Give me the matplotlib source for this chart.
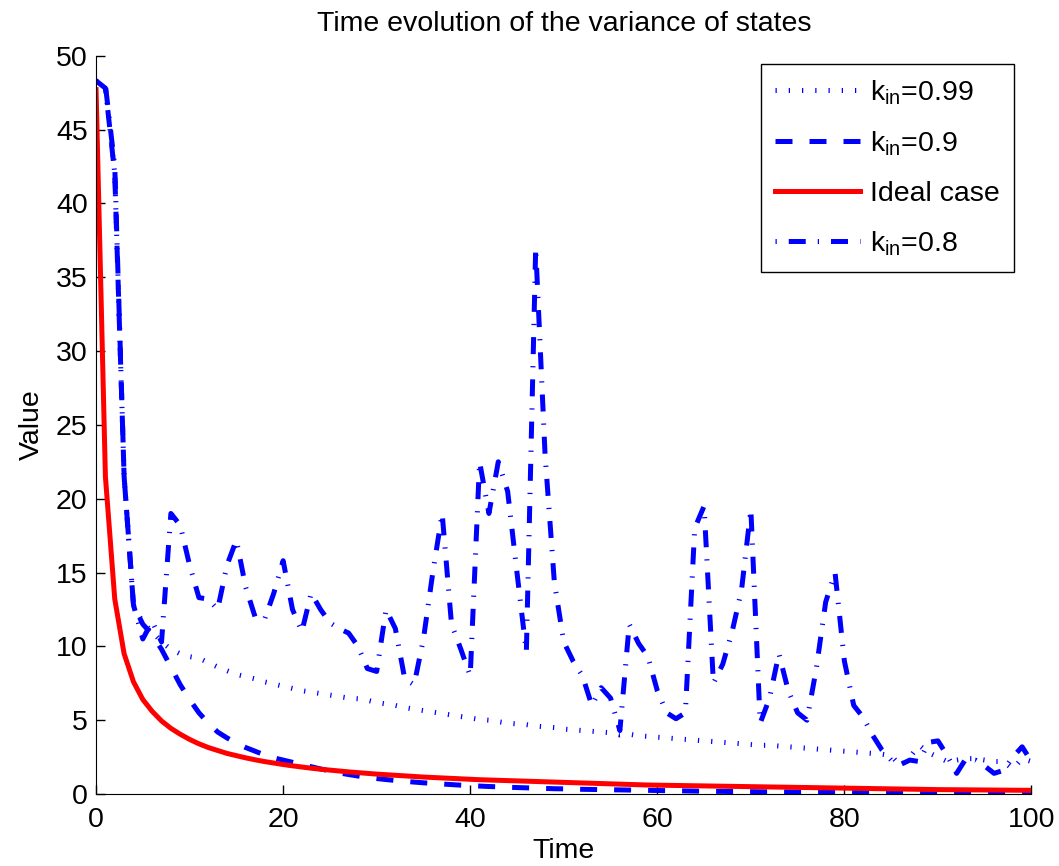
import matplotlib
matplotlib.use("Agg")
import matplotlib.pyplot as plt
import numpy as np

plt.rcParams['font.family'] = ['Liberation Sans', 'DejaVu Sans']
plt.rcParams['mathtext.fontset'] = 'custom'
plt.rcParams['mathtext.rm'] = 'Liberation Sans'
plt.rcParams['mathtext.it'] = 'Liberation Sans:italic'

time = np.arange(0, 101)

# k_in = 0.99 (dotted)
k099 = [48.3, 47.8, 42.0, 21.5, 12.8, 11.6, 11.0, 10.3, 9.8, 9.5,
        9.3, 9.2, 8.9, 8.6, 8.35, 8.1, 7.95, 7.8, 7.6, 7.45,
        7.3, 7.15, 7.0, 6.9, 6.8, 6.7, 6.6, 6.5, 6.45, 6.35,
        6.2, 6.1, 6.0, 5.85, 5.75, 5.65, 5.55, 5.45, 5.35, 5.25,
        5.15, 5.05, 5.0, 4.9, 4.8, 4.75, 4.7, 4.6, 4.55, 4.5,
        4.4, 4.35, 4.3, 4.25, 4.2, 4.15, 4.0, 4.05, 3.95, 3.9,
        3.85, 3.8, 3.75, 3.7, 3.65, 3.6, 3.55, 3.5, 3.45, 3.4,
        3.35, 3.3, 3.3, 3.25, 3.2, 3.15, 3.1, 3.05, 3.0, 2.95,
        2.9, 2.85, 2.8, 2.75, 2.7, 2.6, 1.9, 2.5, 3.3, 2.8,
        2.5, 2.2, 2.3, 2.4, 2.4, 2.3, 2.2, 2.2, 1.7, 2.4,
        2.2]

# k_in = 0.9 (dashed)
k090 = [48.3, 47.8, 42.0, 21.5, 12.8, 11.5, 10.8, 9.8, 8.6, 7.4,
        6.4, 5.5, 4.8, 4.2, 3.8, 3.45, 3.15, 2.9, 2.65, 2.45,
        2.3, 2.15, 2.0, 1.85, 1.7, 1.56, 1.43, 1.32, 1.22, 1.13,
        1.05, 0.98, 0.92, 0.86, 0.81, 0.76, 0.72, 0.68, 0.64, 0.6,
        0.57, 0.54, 0.51, 0.49, 0.46, 0.44, 0.42, 0.4, 0.38, 0.36,
        0.35, 0.33, 0.32, 0.31, 0.3, 0.29, 0.28, 0.27, 0.26, 0.25,
        0.24, 0.23, 0.22, 0.21, 0.2, 0.19, 0.18, 0.18, 0.17, 0.16,
        0.16, 0.15, 0.15, 0.14, 0.14, 0.13, 0.13, 0.12, 0.12, 0.11,
        0.11, 0.1, 0.1, 0.1, 0.09, 0.09, 0.09, 0.08, 0.08, 0.08,
        0.07, 0.07, 0.07, 0.07, 0.06, 0.06, 0.06, 0.06, 0.05, 0.05,
        0.05]

# ideal case (solid red)
ideal = [47.7, 21.5, 13.2, 9.5, 7.6, 6.4, 5.6, 4.95, 4.45, 4.05,
         3.7, 3.4, 3.15, 2.95, 2.75, 2.6, 2.45, 2.32, 2.2, 2.1,
         2.0, 1.91, 1.83, 1.75, 1.68, 1.62, 1.56, 1.5, 1.45, 1.4,
         1.35, 1.31, 1.27, 1.23, 1.19, 1.15, 1.12, 1.09, 1.06, 1.03,
         1.0, 0.97, 0.95, 0.93, 0.91, 0.89, 0.87, 0.85, 0.83, 0.81,
         0.79, 0.77, 0.75, 0.73, 0.71, 0.69, 0.67, 0.65, 0.63, 0.61,
         0.6, 0.59, 0.58, 0.57, 0.56, 0.55, 0.54, 0.53, 0.52, 0.51,
         0.5, 0.49, 0.48, 0.47, 0.46, 0.45, 0.44, 0.43, 0.42, 0.41,
         0.4, 0.39, 0.38, 0.37, 0.36, 0.35, 0.34, 0.33, 0.32, 0.31,
         0.3, 0.295, 0.29, 0.285, 0.28, 0.275, 0.27, 0.265, 0.26, 0.255,
         0.25]

# k_in = 0.8 (dash-dot)
k080 = [48.3, 48.0, 42.5, 21.5, 12.8, 10.5, 11.7, 10.3, 19.0, 18.2,
        15.5, 13.3, 13.2, 12.5, 15.5, 17.2, 14.0, 12.0, 11.8, 13.6,
        15.8, 12.5, 11.0, 13.6, 12.5, 11.6, 11.2, 10.9, 10.0, 8.5,
        8.3, 12.5, 11.2, 7.8, 7.4, 10.5, 15.0, 19.0, 11.5, 9.8,
        8.0, 22.5, 19.0, 22.5, 20.5, 15.0, 9.6, 37.0, 23.0, 14.3,
        10.3, 9.0, 8.0, 6.0, 7.2, 6.5, 4.3, 11.5, 10.2, 9.3,
        7.0, 5.5, 5.1, 5.5, 18.0, 19.5, 7.5, 8.8, 11.0, 13.8,
        19.3, 4.8, 6.5, 9.5, 7.0, 5.5, 5.0, 8.5, 13.0, 15.0,
        9.0, 6.0, 5.2, 4.0, 3.0, 2.3, 2.0, 2.3, 2.2, 3.5,
        3.6, 2.6, 1.4, 2.4, 2.3, 1.9, 1.4, 1.6, 2.5, 3.2,
        2.2]

fig = plt.figure(figsize=(10.59, 8.66), dpi=100)
ax = fig.add_axes([0.0907, 0.0831, 0.8833, 0.8526])

lw = 3.6
ax.plot(time, k099, color='blue', lw=lw, linestyle=(0, (0.25, 2.4)),
        dash_capstyle='butt', label=r'k$_{\mathrm{in}}$=0.99')
ax.plot(time, k090, color='blue', lw=lw, linestyle=(0, (3.4, 3.4)),
        dash_capstyle='butt', label=r'k$_{\mathrm{in}}$=0.9')
ax.plot(time, ideal, color='red', lw=lw, label='Ideal case')
ax.plot(time, k080, color='blue', lw=lw, linestyle=(0, (0.25, 2.4, 3.4, 2.4)),
        dash_capstyle='butt', label=r'k$_{\mathrm{in}}$=0.8')

fs = 20.5
ax.set_xlim(0, 100)
ax.set_ylim(0, 50)
ax.set_xticks(np.arange(0, 101, 20))
ax.set_yticks(np.arange(0, 51, 5))
ax.tick_params(direction='in', length=6.5, width=1, labelsize=fs, pad=6)
ax.tick_params(axis='x', pad=9)
ax.spines['top'].set_visible(False)
ax.spines['right'].set_visible(False)
ax.set_xlabel('Time', fontsize=fs, labelpad=4)
ax.set_ylabel('Value', fontsize=fs, labelpad=8)
ax.set_title('Time evolution of the variance of states', fontsize=fs, pad=18)

leg = ax.legend(loc='upper right', bbox_to_anchor=(0.981, 0.989), borderaxespad=0,
                fontsize=fs, handlelength=2.98, handletextpad=0.35,
                borderpad=0.5, labelspacing=0.8, fancybox=False,
                framealpha=1, edgecolor='black')
leg.get_frame().set_linewidth(1.0)

fig.savefig('out.png', dpi=100)
